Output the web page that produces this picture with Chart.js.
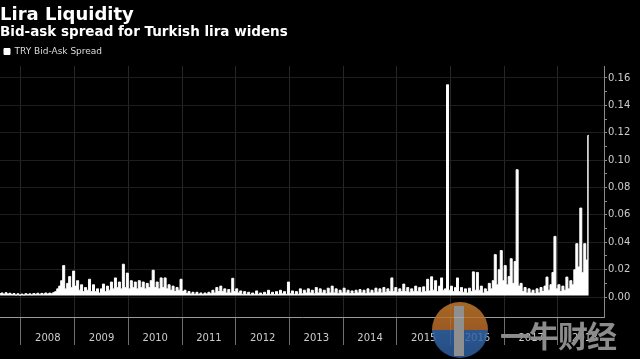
<!DOCTYPE html>
<html>
<head>
<meta charset="utf-8">
<script src="https://cdn.jsdelivr.net/npm/chart.js@4.4.1/dist/chart.umd.min.js"></script>
<style>
  html, body { margin: 0; padding: 0; background: #000; }
  #wrap { position: relative; width: 640px; height: 359px; overflow: hidden; }
  #mark { position: absolute; left: 0; top: 0; width: 640px; height: 359px; pointer-events: none; }
  .logo { position: absolute; left: 432px; top: 302px; width: 56px; height: 56px; border-radius: 50%;
          background: linear-gradient(#c07a2c 0%, #b86a2a 50%, #3466a8 50%, #2d5c9c 100%); opacity: 0.85; }
  .logo span { position: absolute; left: 22px; top: 4px; width: 10px; height: 50px; background: #a8a8a8; }
  .brand { position: absolute; left: 500px; top: 312px; font: bold 30px "Noto Sans CJK SC"; color: #8c8c8c; letter-spacing: -1px; }
</style>
</head>
<body>
<div id="wrap">
  <canvas id="lira" width="640" height="359"></canvas>
  <div id="mark"><div class="logo"><span></span></div><div class="brand">一牛财经</div></div>
</div>
<script>
// roughly every two weeks, starting mid 2007
const sampleStart = 2007.61;
const sampleStep = 1 / 27;

const years = [2008, 2009, 2010, 2011, 2012, 2013, 2014, 2015, 2016, 2017, 2018];

// TRY bid-ask spread
const spread = [
  0.0025,0.003,0.002,0.0032,0.0022,0.0028,0.0018,0.0026,0.0016,0.0024,
  0.0015,0.0022,0.0016,0.0025,0.0018,0.0024,0.0017,0.0026,0.002,0.0028,
  0.0019,0.0027,0.0021,0.003,0.0022,0.0029,0.0024,0.0033,0.004,0.006,
  0.008,0.012,0.023,0.006,0.01,0.015,0.007,0.019,0.008,0.012,
  0.005,0.009,0.004,0.007,0.005,0.013,0.004,0.009,0.004,0.006,
  0.003,0.006,0.0095,0.004,0.008,0.005,0.011,0.006,0.014,0.007,
  0.011,0.006,0.024,0.007,0.0175,0.006,0.012,0.007,0.011,0.006,
  0.012,0.007,0.011,0.006,0.01,0.007,0.012,0.0196,0.007,0.011,
  0.006,0.014,0.007,0.014,0.006,0.009,0.005,0.008,0.004,0.007,
  0.005,0.013,0.004,0.005,0.0025,0.004,0.0022,0.0035,0.002,0.0035,
  0.002,0.003,0.0018,0.003,0.0022,0.0035,0.0025,0.005,0.003,0.007,
  0.004,0.008,0.004,0.006,0.003,0.0055,0.003,0.0137,0.004,0.006,
  0.003,0.0045,0.002,0.004,0.002,0.0035,0.0018,0.003,0.002,0.0045,
  0.002,0.003,0.0018,0.0035,0.002,0.005,0.002,0.0035,0.0018,0.004,
  0.002,0.005,0.0025,0.004,0.002,0.011,0.0025,0.0045,0.002,0.004,
  0.002,0.006,0.0025,0.005,0.003,0.006,0.003,0.005,0.0025,0.007,
  0.003,0.006,0.003,0.005,0.0025,0.0065,0.003,0.008,0.003,0.006,
  0.0025,0.005,0.003,0.0065,0.003,0.005,0.0025,0.0045,0.0025,0.005,
  0.003,0.0055,0.003,0.005,0.0025,0.006,0.003,0.005,0.003,0.0065,
  0.0035,0.006,0.003,0.007,0.0035,0.006,0.004,0.014,0.004,0.007,
  0.0035,0.006,0.004,0.0095,0.004,0.007,0.0035,0.006,0.004,0.008,
  0.004,0.007,0.0035,0.0075,0.004,0.013,0.0045,0.0148,0.005,0.012,
  0.004,0.008,0.014,0.005,0.006,0.155,0.005,0.008,0.004,0.007,
  0.014,0.004,0.007,0.0035,0.006,0.003,0.0065,0.004,0.0184,0.005,
  0.018,0.005,0.008,0.003,0.006,0.004,0.01,0.006,0.012,0.031,
  0.009,0.02,0.034,0.012,0.023,0.009,0.015,0.028,0.01,0.026,
  0.093,0.008,0.01,0.004,0.007,0.003,0.006,0.003,0.005,0.0025,
  0.006,0.003,0.007,0.004,0.008,0.0146,0.005,0.009,0.018,0.0443,
  0.006,0.009,0.004,0.008,0.005,0.0146,0.006,0.012,0.009,0.02,
  0.039,0.022,0.065,0.018,0.039,0.027,0.118
];

const points = spread.map((v, i) => ({ x: sampleStart + i * sampleStep, y: v }));

const gridH = '#1e1e1e';
const gridV = '#262626';
const axisGray = '#8a8a8a';

const config = {
  type: 'line',
  data: {
    datasets: [{
      label: 'TRY Bid-Ask Spread',
      data: points,
      borderColor: '#ffffff',
      backgroundColor: '#ffffff',
      borderWidth: 1,
      pointRadius: 0,
      stepped: 'middle',
      fill: { value: 0.0012 }
    }]
  },
  options: {
    responsive: false,
    animation: false,
    plugins: {
      title: {
        display: true,
        text: 'Lira Liquidity',
        align: 'start',
        color: '#ffffff',
        font: { family: 'DejaVu Sans', size: 18, weight: 'bold', lineHeight: 1.1 },
        padding: { top: 5, bottom: 0 }
      },
      subtitle: {
        display: true,
        text: 'Bid-ask spread for Turkish lira widens',
        align: 'start',
        color: '#ffffff',
        font: { family: 'DejaVu Sans', size: 13.5, weight: 'bold', lineHeight: 1.2 },
        padding: { top: 0, bottom: 2 }
      },
      legend: {
        display: true,
        align: 'start',
        labels: {
          color: '#dddddd',
          boxWidth: 6,
          boxHeight: 6,
          padding: 4,
          font: { family: 'DejaVu Sans', size: 9 }
        }
      },
      filler: { propagate: false },
      tooltip: { enabled: false }
    },
    scales: {
      x: {
        type: 'linear',
        min: 2007.609,
        max: 2018.857,
        afterBuildTicks: (scale) => {
          const t = [];
          years.forEach(y => { t.push({ value: y }); t.push({ value: y + 0.5 }); });
          scale.ticks = t;
        },
        afterFit: (scale) => { scale.height = 42; },
        border: { display: true, color: '#9a9a9a', width: 1 },
        grid: {
          color: (ctx) => (ctx.tick && Number.isInteger(ctx.tick.value)) ? gridV : 'rgba(0,0,0,0)',
          tickColor: (ctx) => (ctx.tick && Number.isInteger(ctx.tick.value)) ? '#6e6e6e' : 'rgba(0,0,0,0)',
          tickLength: 28
        },
        ticks: {
          autoSkip: false,
          maxRotation: 0,
          padding: -13,
          color: '#cccccc',
          font: { family: 'DejaVu Sans', size: 10 },
          callback: (v) => Number.isInteger(v) ? '' : String(Math.floor(v))
        }
      },
      y: {
        position: 'right',
        min: -0.01455,
        max: 0.1687,
        afterBuildTicks: (scale) => {
          const t = [];
          for (let i = 0; i <= 16; i++) t.push({ value: i / 100 });
          scale.ticks = t;
        },
        afterFit: (scale) => { scale.width = 36; },
        border: { display: true, color: axisGray, width: 1 },
        grid: {
          color: (ctx) => (ctx.tick && Math.round(ctx.tick.value * 100) % 2 === 0) ? gridH : 'rgba(0,0,0,0)',
          tickColor: axisGray,
          tickLength: 3
        },
        ticks: {
          padding: 1,
          color: '#cccccc',
          font: { family: 'DejaVu Sans', size: 10 },
          callback: (v) => Math.round(v * 100) % 2 === 0 ? v.toFixed(2) : ''
        }
      }
    }
  }
};

const lira = new Chart(document.getElementById('lira'), config);
</script>
</body>
</html>
